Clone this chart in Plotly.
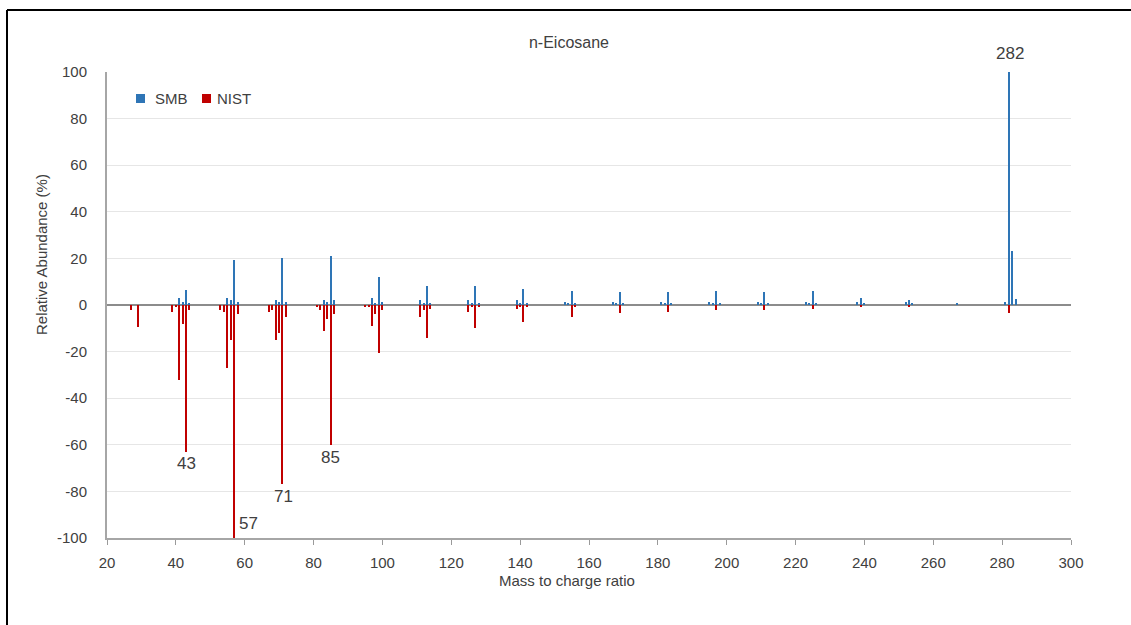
import plotly.graph_objects as go

# ---------------- data ----------------
smb_mz = [41, 42, 43, 44, 55, 56, 57, 58, 69, 70, 71, 72, 83, 84, 85, 86,
          97, 98, 99, 100, 111, 112, 113, 114, 125, 126, 127, 128,
          139, 140, 141, 142, 153, 154, 155, 156, 167, 168, 169, 170,
          181, 182, 183, 184, 195, 196, 197, 198, 209, 210, 211, 212,
          223, 224, 225, 226, 238, 239, 240, 252, 253, 254, 267,
          281, 282, 283, 284]
smb_ab = [3, 1.5, 6.5, 1, 3, 2, 19.5, 1.5, 2, 1.5, 20, 1.5, 2, 1.5, 21, 2,
          3, 1, 12, 1.5, 2, 1, 8, 1, 2, 1, 8, 1,
          2, 1, 7, 1, 1.5, 1, 6, 1, 1.5, 1, 5.5, 1,
          1.5, 1, 5.5, 1, 1.5, 1, 6, 1, 1.5, 1, 5.5, 1,
          1.5, 1, 6, 1, 1.5, 3, 1, 1.5, 2, 0.5, 0.5,
          1.5, 100, 23, 2.5]

nist_mz = [27, 29, 39, 40, 41, 42, 43, 44, 53, 54, 55, 56, 57, 58,
           67, 68, 69, 70, 71, 72, 81, 82, 83, 84, 85, 86,
           95, 96, 97, 98, 99, 100, 111, 112, 113, 114,
           125, 126, 127, 128, 139, 140, 141, 142, 155, 156,
           169, 183, 197, 211, 225, 239, 253, 282]
nist_ab = [2, 9.5, 3, 1, 32, 8, 63, 2, 2, 3, 27, 15, 100, 4,
           3, 2, 15, 12, 77, 5, 1, 2, 11, 6, 60, 4,
           1, 1, 9, 4, 20.5, 2, 5, 2, 14, 1.5,
           3, 1, 10, 1, 1.5, 1, 7.5, 1, 5, 1,
           3.5, 3, 2, 2, 1.5, 1, 1, 3.5]

label_mz = [43, 57, 71, 85, 282]
label_src = ["NIST", "NIST", "NIST", "NIST", "SMB"]

x_ticks = list(range(20, 301, 20))
y_ticks = list(range(-100, 101, 20))
y_tick_text = [str(v) for v in y_ticks]

# ---------------- style ----------------
BLUE = "#2E75B6"
RED = "#C00000"
TXT = "#404040"
FONT = "Liberation Sans, Arial, sans-serif"
label_offsets = {43: (0, -12), 57: (14, 15), 71: (1, -12), 85: (0, -13), 282: (1, 19)}

fig = go.Figure()
fig.add_trace(go.Bar(x=smb_mz, y=smb_ab, name="SMB", marker=dict(color=BLUE, line_width=0),
                     width=0.38, showlegend=False))
fig.add_trace(go.Bar(x=nist_mz, y=[-v for v in nist_ab], name="NIST",
                     marker=dict(color=RED, line_width=0), width=0.38, showlegend=False))

L, R, T, B = 107, 60, 72, 87
W, H = 1131, 625
pw, ph = W - L - R, H - T - B


def px(xp):
    return (xp - L) / pw


def py(yp):
    return 1 - (yp - T) / ph


annotations = []
for mz, src in zip(label_mz, label_src):
    if src == "SMB":
        val = smb_ab[smb_mz.index(mz)]
    else:
        val = -nist_ab[nist_mz.index(mz)]
    dx, dy = label_offsets[mz]
    annotations.append(dict(x=mz, y=val, xref="x", yref="y", text=str(mz), showarrow=False,
                            xanchor="center", yanchor="middle", xshift=dx, yshift=dy,
                            font=dict(size=17, color=TXT, family=FONT)))

# legend (manual)
annotations += [
    dict(x=px(153), y=py(98.5), xref="paper", yref="paper", text="SMB", showarrow=False,
         xanchor="left", yanchor="middle", font=dict(size=15, color=TXT, family=FONT)),
    dict(x=px(215), y=py(98.5), xref="paper", yref="paper", text="NIST", showarrow=False,
         xanchor="left", yanchor="middle", font=dict(size=15, color=TXT, family=FONT)),
    # axis titles
    dict(x=px(41), y=py(255), xref="paper", yref="paper", text="Relative Abundance (%)",
         showarrow=False, textangle=-90, xanchor="center", yanchor="middle",
         font=dict(size=15, color=TXT, family=FONT)),
    dict(x=px(567), y=py(580), xref="paper", yref="paper", text="Mass to charge ratio",
         showarrow=False, xanchor="center", yanchor="middle",
         font=dict(size=15, color=TXT, family=FONT)),
]

shapes = [
    dict(type="rect", xref="paper", yref="paper", x0=px(136), x1=px(145), y0=py(103), y1=py(94),
         fillcolor=BLUE, line_width=0),
    dict(type="rect", xref="paper", yref="paper", x0=px(202), x1=px(211), y0=py(103), y1=py(94),
         fillcolor=RED, line_width=0),
    # outer frame (top + left edges visible)
    dict(type="line", xref="paper", yref="paper", x0=px(7), x1=px(1140), y0=py(10), y1=py(10),
         line=dict(color="black", width=2)),
    dict(type="line", xref="paper", yref="paper", x0=px(7), x1=px(7), y0=py(10), y1=py(640),
         line=dict(color="black", width=2)),
]

fig.update_layout(
    width=W, height=H,
    margin=dict(l=L, r=R, t=T, b=B, pad=0),
    paper_bgcolor="white", plot_bgcolor="white",
    barmode="overlay", bargap=0,
    title=dict(text="n-Eicosane", x=569 / W, xref="container", xanchor="center",
               y=1 - 42 / H, yref="container", yanchor="middle",
               font=dict(size=16, color=TXT, family=FONT)),
    annotations=annotations, shapes=shapes,
    font=dict(family=FONT, color=TXT),
)
fig.update_xaxes(range=[20, 300], tickvals=x_ticks, ticks="outside", ticklen=5,
                 tickcolor="#9a9a9a", showline=True, linecolor="#a6a6a6", linewidth=2,
                 showgrid=False, zeroline=False, tickfont=dict(size=15, color=TXT, family=FONT),
                 ticklabelstandoff=5)
fig.update_yaxes(range=[-100, 100], tickvals=y_ticks, ticktext=y_tick_text, ticks="",
                 showline=True, linecolor="#a6a6a6", linewidth=2, showgrid=True,
                 gridcolor="#e6e6e6", gridwidth=1, zeroline=True, zerolinecolor="#8c8c8c",
                 zerolinewidth=2, tickfont=dict(size=15, color=TXT, family=FONT),
                 ticklabelstandoff=15)

fig.write_html("out.html")
